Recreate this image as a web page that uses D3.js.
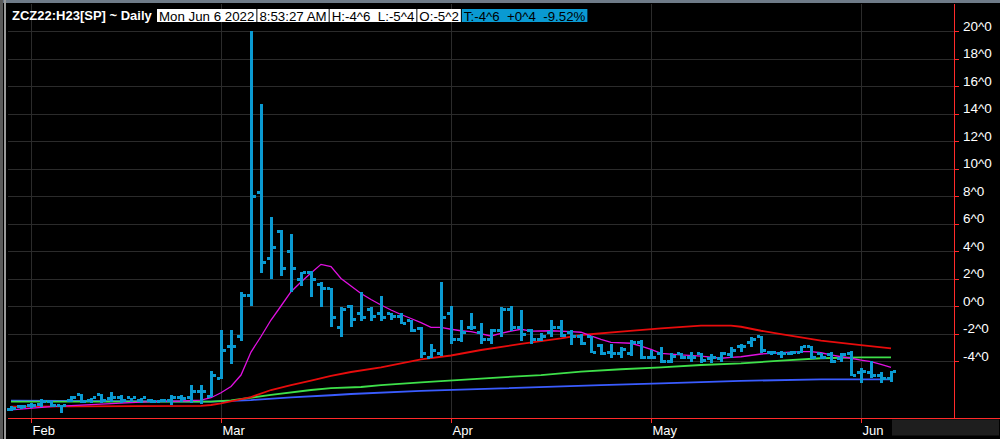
<!DOCTYPE html>
<html>
<head>
<meta charset="utf-8">
<script src="https://cdn.jsdelivr.net/npm/d3@7"></script>
<style>
  html, body { margin: 0; padding: 0; background: #000; }
  svg { display: block; }
  text { font-family: "Liberation Sans", Arial, sans-serif; }
</style>
</head>
<body>
<svg id="chart" width="1000" height="439"></svg>
<script>
// trading days shown on the chart
var dates = [
  "2022-01-28","2022-01-31",
  "2022-02-01","2022-02-02","2022-02-03","2022-02-04","2022-02-07","2022-02-08","2022-02-09","2022-02-10",
  "2022-02-11","2022-02-14","2022-02-15","2022-02-16","2022-02-17","2022-02-18","2022-02-22","2022-02-23",
  "2022-02-24","2022-02-25","2022-02-28",
  "2022-03-01","2022-03-02","2022-03-03","2022-03-04","2022-03-07","2022-03-08","2022-03-09","2022-03-10",
  "2022-03-11","2022-03-14","2022-03-15","2022-03-16","2022-03-17","2022-03-18","2022-03-21","2022-03-22",
  "2022-03-23","2022-03-24","2022-03-25","2022-03-28","2022-03-29","2022-03-30","2022-03-31",
  "2022-04-01","2022-04-04","2022-04-05","2022-04-06","2022-04-07","2022-04-08","2022-04-11","2022-04-12",
  "2022-04-13","2022-04-14","2022-04-18","2022-04-19","2022-04-20","2022-04-21","2022-04-22","2022-04-25",
  "2022-04-26","2022-04-27","2022-04-28","2022-04-29",
  "2022-05-02","2022-05-03","2022-05-04","2022-05-05","2022-05-06","2022-05-09","2022-05-10","2022-05-11",
  "2022-05-12","2022-05-13","2022-05-16","2022-05-17","2022-05-18","2022-05-19","2022-05-20","2022-05-23",
  "2022-05-24","2022-05-25","2022-05-26","2022-05-27","2022-05-31",
  "2022-06-01","2022-06-02","2022-06-03","2022-06-06"
];

var open = [-7.56,-7.3,-7.27,-7.13,-6.91,-7.27,-6.84,-6.47,-6.84,-6.47,-6.76,-6.69,-6.69,-6.84,-6.84,-6.91,-6.84,-6.69,-6.69,-6.25,-6.55,
  -5.24,-2.98,-2.25,0.73,8.22,3.49,5.45,4.0,1.96,2.47,1.53,1.24,-1.53,0,-0.51,-0.22,-0.51,-0.51,-0.73,-1.09,-1.6,-3.71,-3.49,
  -0.51,-2.4,-1.53,-1.96,-2.4,-1.75,-0.29,-1.53,-1.75,-2.4,-1.96,-1.53,-1.96,-2.25,-2.25,-2.84,-3.35,-3.42,-3.42,-2.69,
  -3.78,-3.42,-4.07,-3.42,-3.71,-3.42,-3.85,-3.85,-3.56,-2.98,-2.69,-2.25,-3.35,-3.49,-3.42,-3.35,-2.98,-3.49,-3.56,-3.85,-3.49,
  -4.87,-4.8,-5.02,-5.25];
var high = [-7.27,-7.2,-7.05,-6.76,-6.91,-7.2,-6.55,-6.4,-6.69,-6.4,-6.25,-6.47,-6.69,-6.69,-6.76,-6.76,-6.47,-6.47,-5.75,-5.75,-4.73,
  -1.75,-1.75,1.02,20.0,14.69,6.47,5.53,5.24,2.47,2.55,1.75,1.31,-0.07,0.07,1.02,-0.07,0.73,-0.51,-0.51,-1.02,-1.53,-2.76,1.75,
  0,-1.02,-0.51,-1.24,-1.67,-0.07,0,-0.29,-1.67,-1.96,-1.02,-1.02,-1.75,-2.04,-2.18,-2.76,-2.76,-2.98,-2.47,-2.47,
  -3.2,-2.98,-3.42,-3.42,-3.35,-3.42,-3.49,-3.35,-2.98,-2.76,-2.25,-2.18,-3.27,-3.27,-3.27,-2.91,-2.91,-3.42,-3.35,-3.42,-3.27,
  -4.51,-4.0,-4.8,-4.75];
var low = [-7.64,-7.5,-7.42,-7.35,-7.35,-7.78,-6.98,-7.05,-7.05,-7.05,-6.98,-7.05,-6.98,-7.05,-7.05,-6.98,-7.2,-6.98,-7.05,-7.13,-6.62,
  -5.31,-4.22,-2.55,0,2.4,1.96,2.18,1.02,1.45,0.65,-0.07,-1.53,-2.25,-1.53,-1.09,-1.09,-1.09,-1.02,-1.31,-1.89,-3.78,-3.78,-3.64,
  -2.76,-2.62,-1.75,-2.76,-2.76,-2.25,-1.82,-2.55,-2.76,-2.55,-2.25,-2.25,-2.84,-2.84,-3.42,-3.56,-3.78,-3.78,-3.64,-3.85,
  -3.85,-4.15,-4.15,-3.85,-4.07,-4.15,-4.15,-4.07,-3.78,-3.35,-2.98,-3.42,-3.56,-3.78,-3.56,-3.42,-3.85,-3.85,-4.15,-4.07,-5.09,
  -5.6,-5.24,-5.6,-5.5];
var close = [-7.42,-7.3,-7.27,-6.91,-7.27,-7.27,-6.69,-6.98,-6.69,-6.84,-6.69,-6.84,-6.69,-6.69,-6.91,-6.84,-6.69,-6.76,-6.25,-6.25,-5.02,
  -3.27,-2.98,0.73,8.0,3.2,4.22,2.76,2.76,2.47,1.96,1.24,-0.8,-0.22,-0.95,-0.8,-0.73,-0.8,-0.73,-1.24,-1.75,-3.42,-3.27,-0.8,
  -2.4,-1.96,-1.53,-2.4,-1.75,-0.29,-1.53,-2.04,-2.47,-2.25,-1.53,-2.18,-2.25,-2.76,-3.35,-3.42,-3.42,-3.13,-2.62,-3.78,
  -3.78,-4.07,-3.64,-3.78,-3.71,-3.93,-3.71,-3.49,-3.27,-2.98,-2.47,-3.27,-3.35,-3.42,-3.35,-2.98,-3.78,-3.78,-4.0,-3.56,-5.02,
  -4.73,-5.02,-5.25,-4.75];

// moving averages: [bar index, value]
var maMagenta = [[0,-7.56],[4,-7.32],[9,-7.13],[14,-6.96],[17,-6.91],[19,-6.84],[20,-6.67],[21,-6.31],[22,-5.85],[23,-5.02],
  [24,-3.35],[25,-2.22],[26,-1.02],[27,0],[28,1.04],[29,1.75],[30,2.4],[31,3.03],[32,2.86],[33,2.0],[34,1.45],[35,0.91],
  [36,0.47],[37,0.07],[38,-0.29],[39,-0.62],[40,-0.91],[41,-1.21],[42,-1.55],[43,-1.55],[44,-1.69],[45,-1.8],[46,-1.87],
  [48,-2.18],[49,-1.99],[50,-1.82],[51,-1.69],[52,-1.82],[54,-1.8],[56,-1.87],[57,-1.91],[58,-2.18],[59,-2.42],[60,-2.64],
  [62,-2.71],[63,-2.91],[64,-3.15],[65,-3.44],[67,-3.56],[69,-3.64],[71,-3.8],[72,-3.73],[73,-3.69],[75,-3.49],[77,-3.4],
  [79,-3.32],[80,-3.32],[81,-3.4],[82,-3.56],[83,-3.69],[84,-3.8],[85,-3.93],[86,-4.05],[87,-4.24],[88,-4.46]];
var maRed = [[0,-7.32],[19,-7.27],[20,-7.2],[21,-7.09],[24,-6.62],[26,-6.11],[28,-5.75],[30,-5.43],[32,-5.09],[34,-4.8],
  [37,-4.46],[41,-3.88],[44,-3.6],[47,-3.2],[51,-2.76],[55,-2.35],[57,-2.11],[61,-1.87],[65,-1.62],[69,-1.43],[72,-1.43],
  [73,-1.51],[75,-1.8],[77,-2.04],[81,-2.52],[85,-2.84],[88,-3.08]];
var maGreen = [[0,-6.96],[20,-6.95],[22,-6.86],[26,-6.47],[30,-6.11],[32,-5.98],[35,-5.89],[37,-5.75],[41,-5.55],[45,-5.38],
  [49,-5.19],[53,-5.02],[57,-4.78],[61,-4.6],[65,-4.46],[69,-4.29],[73,-4.17],[77,-3.98],[81,-3.8],[85,-3.73],[88,-3.73]];
var maBlue = [[0,-6.89],[20,-6.96],[24,-6.84],[28,-6.64],[32,-6.49],[34,-6.4],[41,-6.18],[49,-5.99],[59,-5.75],[65,-5.62],
  [73,-5.45],[81,-5.33],[88,-5.33]];

var yTicks = [20,18,16,14,12,10,8,6,4,2,0,-2,-4];
var monthDates = ["2022-02-01","2022-03-01","2022-04-01","2022-05-02","2022-06-01"];
var monthLabels = ["Feb","Mar","Apr","May","Jun"];

var header = [
  {text: "Mon Jun 6 2022", bg: "#ffffff"},
  {text: "8:53:27 AM", bg: "#ffffff"},
  {text: "H:-4^6  L:-5^4", bg: "#ffffff"},
  {text: "O:-5^2", bg: "#ffffff"},
  {text: "T:-4^6  +0^4  -9.52%", bg: "#0a9ad2"}
];

var svg = d3.select("#chart");
var W = 1000, H = 439;
var plot = {left: 8, right: 954, top: 4, bottom: 418};

svg.append("rect").attr("width", W).attr("height", H).attr("fill", "#000");
// frame bits of the host window
svg.append("rect").attr("x", 0).attr("y", 0).attr("width", W).attr("height", 3).attr("fill", "#6f7b88");
svg.append("rect").attr("x", 0).attr("y", 0).attr("width", 3).attr("height", H).attr("fill", "#5a5a5a");
svg.append("rect").attr("x", 4).attr("y", 0).attr("width", 2).attr("height", H).attr("fill", "#9a9a9a");

var x = d3.scaleBand().domain(dates).range([6, 896]);
var cx = function(d) { return x(d) + x.bandwidth() / 2; };
var y = d3.scaleLinear().domain([0, 20]).range([306, 31]);

// grid
var grid = svg.append("g").attr("shape-rendering", "crispEdges");
grid.selectAll(".hg").data(yTicks).enter().append("line")
  .attr("x1", plot.left).attr("x2", plot.right)
  .attr("y1", function(d) { return Math.round(y(d)) + 0.5; })
  .attr("y2", function(d) { return Math.round(y(d)) + 0.5; })
  .attr("stroke", "#2b2b2b");
grid.selectAll(".vg").data(monthDates).enter().append("line")
  .attr("x1", function(d) { return Math.round(cx(d)) + 0.5; })
  .attr("x2", function(d) { return Math.round(cx(d)) + 0.5; })
  .attr("y1", plot.top).attr("y2", plot.bottom)
  .attr("stroke", "#2b2b2b");

// moving averages
var line = d3.line()
  .x(function(d) { return cx(dates[d[0]]); })
  .y(function(d) { return y(d[1]); });
[[maBlue, "#3a5cff", 1.8], [maGreen, "#3ee04a", 1.8], [maRed, "#e80c0c", 1.8], [maMagenta, "#e010e0", 1.3]]
  .forEach(function(s) {
    svg.append("path").datum(s[0]).attr("d", line)
      .attr("fill", "none").attr("stroke", s[1]).attr("stroke-width", s[2]);
  });

// OHLC bars
var bars = dates.map(function(d, i) {
  return {date: d, o: open[i], h: high[i], l: low[i], c: close[i]};
});
var bg = svg.append("g").attr("fill", "#0a9ad2").attr("shape-rendering", "crispEdges");
var bar = bg.selectAll("g").data(bars).enter().append("g");
bar.append("rect")
  .attr("x", function(d) { return cx(d.date) - 1.5; })
  .attr("y", function(d) { return y(d.h); })
  .attr("width", 3)
  .attr("height", function(d) { return Math.max(2, y(d.l) - y(d.h)); });
bar.append("rect")
  .attr("x", function(d) { return cx(d.date) - 4.5; })
  .attr("y", function(d) { return y(d.o) - 1.5; })
  .attr("width", 3).attr("height", 3);
bar.append("rect")
  .attr("x", function(d) { return cx(d.date) + 1.5; })
  .attr("y", function(d) { return y(d.c) - 1.5; })
  .attr("width", 3).attr("height", 3);

// axes in red
var axisG = svg.append("g").attr("shape-rendering", "crispEdges");
axisG.append("line").attr("x1", plot.left).attr("x2", W)
  .attr("y1", plot.bottom + 0.5).attr("y2", plot.bottom + 0.5)
  .attr("stroke", "#ff2a2a").attr("stroke-width", 1.5);
axisG.append("line").attr("x1", plot.right + 0.5).attr("x2", plot.right + 0.5)
  .attr("y1", plot.top).attr("y2", plot.bottom)
  .attr("stroke", "#ff2a2a").attr("stroke-width", 1.5);

var yAxis = d3.axisRight(y).tickValues(yTicks).tickSize(5).tickPadding(4)
  .tickFormat(function(d) { return d + "^0"; });
var ya = svg.append("g").attr("transform", "translate(" + plot.right + ",0)").call(yAxis);
ya.select(".domain").remove();
ya.selectAll(".tick line").attr("stroke", "#ff2a2a").attr("shape-rendering", "crispEdges");
ya.selectAll(".tick text").attr("fill", "#fff").attr("font-size", 13.5)
  .attr("font-family", "Liberation Sans, Arial, sans-serif").attr("dy", "-0.05em");

var xa = svg.append("g").attr("transform", "translate(0," + plot.bottom + ")");
var mt = xa.selectAll(".mt").data(monthDates).enter().append("g")
  .attr("transform", function(d) { return "translate(" + (Math.round(cx(d)) + 0.5) + ",0)"; });
mt.append("line").attr("y1", 0).attr("y2", 5).attr("stroke", "#ff2a2a").attr("shape-rendering", "crispEdges");
mt.append("text").attr("x", 1).attr("y", 17).attr("fill", "#fff").attr("font-size", 13)
  .text(function(d, i) { return monthLabels[i]; });

// grey box under the axis at the right
svg.append("rect").attr("x", cx(dates[dates.length - 1]) + 1).attr("y", plot.bottom + 1.5)
  .attr("width", W - 2 - cx(dates[dates.length - 1])).attr("height", 16).attr("fill", "#1e1e1e");

// header
svg.append("text").attr("x", 12).attr("y", 20).attr("fill", "#fff")
  .attr("font-size", 13).attr("font-weight", "bold").text("ZCZ22:H23[SP] ~ Daily");
var hx = 157;
header.forEach(function(h) {
  var g = svg.append("g");
  var r = g.append("rect").attr("x", hx).attr("y", 9).attr("height", 13).attr("fill", h.bg);
  var t = g.append("text").attr("x", hx + 2).attr("y", 20.5).attr("fill", "#000")
    .attr("font-size", 13.3).attr("xml:space", "preserve").style("white-space", "pre").text(h.text);
  var w = t.node().getComputedTextLength() + 4;
  r.attr("width", w);
  hx += w + 1;
});
</script>
</body>
</html>
